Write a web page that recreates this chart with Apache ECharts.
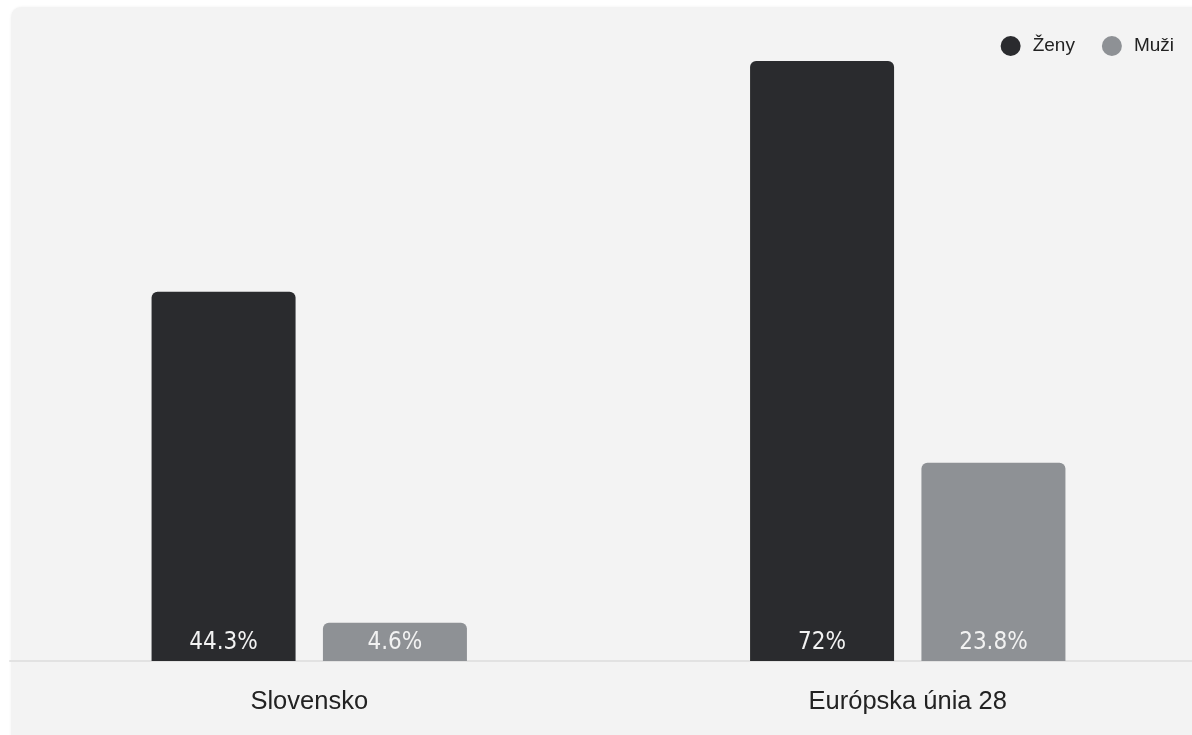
<!DOCTYPE html>
<html>
<head>
<meta charset="utf-8">
<script src="https://cdn.jsdelivr.net/npm/echarts@6/dist/echarts.min.js"></script>
<style>
  html, body { margin:0; padding:0; background:#ffffff; width:1192px; height:735px; overflow:hidden; }
  #panel { position:absolute; left:11px; top:7px; width:1195px; height:740px; background:#f3f3f3; border-radius:10px; box-shadow:0 0 3px rgba(0,0,0,0.06); }
  #chart { position:absolute; left:0; top:0; width:1192px; height:735px; }
</style>
</head>
<body>
<div id="panel"></div>
<div id="chart"></div>
<script>
const categories = ['Slovensko', 'Európska únia 28'];
const seriesNames = ['Ženy', 'Muži'];
const zenyValues = [44.3, 72];
const muziValues = [4.6, 23.8];
const valueLabels = { 'Ženy': ['44.3%', '72%'], 'Muži': ['4.6%', '23.8%'] };

const chart = echarts.init(document.getElementById('chart'), null, { renderer: 'canvas' });
const labelStyle = (name) => ({
  show: true,
  position: 'insideBottom',
  distance: 6,
  color: '#f2f2f2',
  fontSize: 24,
  fontFamily: "'Liberation Sans Narrow', 'DejaVu Sans Condensed', 'Roboto', sans-serif",
  formatter: (p) => valueLabels[name][p.dataIndex]
});
chart.setOption({
  animation: false,
  backgroundColor: 'transparent',
  legend: {
    right: 13,
    top: 31,
    icon: 'circle',
    itemWidth: 20,
    itemHeight: 20,
    itemGap: 27,
    textStyle: { fontSize: 19, color: '#222', fontFamily: "'Liberation Sans', Arial, sans-serif", padding: [0, 0, 0, 7] },
    data: seriesNames
  },
  grid: { left: 10, width: 1197, top: 61, bottom: 74, containLabel: false, outerBoundsMode: 'none' },
  xAxis: {
    type: 'category',
    data: categories,
    axisLine: { show: true, lineStyle: { color: '#e2e2e2', width: 2 } },
    axisTick: { show: false },
    axisLabel: { fontSize: 25.5, color: '#222', margin: 28, fontFamily: "'Liberation Sans', Arial, sans-serif" }
  },
  yAxis: {
    type: 'value',
    min: 0,
    max: 72,
    show: false,
    splitLine: { show: false }
  },
  series: [
    {
      name: 'Ženy',
      type: 'bar',
      data: zenyValues,
      barWidth: 144,
      barGap: '19%',
      itemStyle: { color: '#2a2b2e', borderRadius: [6, 6, 0, 0] },
      label: labelStyle('Ženy')
    },
    {
      name: 'Muži',
      type: 'bar',
      data: muziValues,
      barWidth: 144,
      itemStyle: { color: '#8e9195', borderRadius: [6, 6, 0, 0] },
      label: labelStyle('Muži')
    }
  ]
});
</script>
</body>
</html>
